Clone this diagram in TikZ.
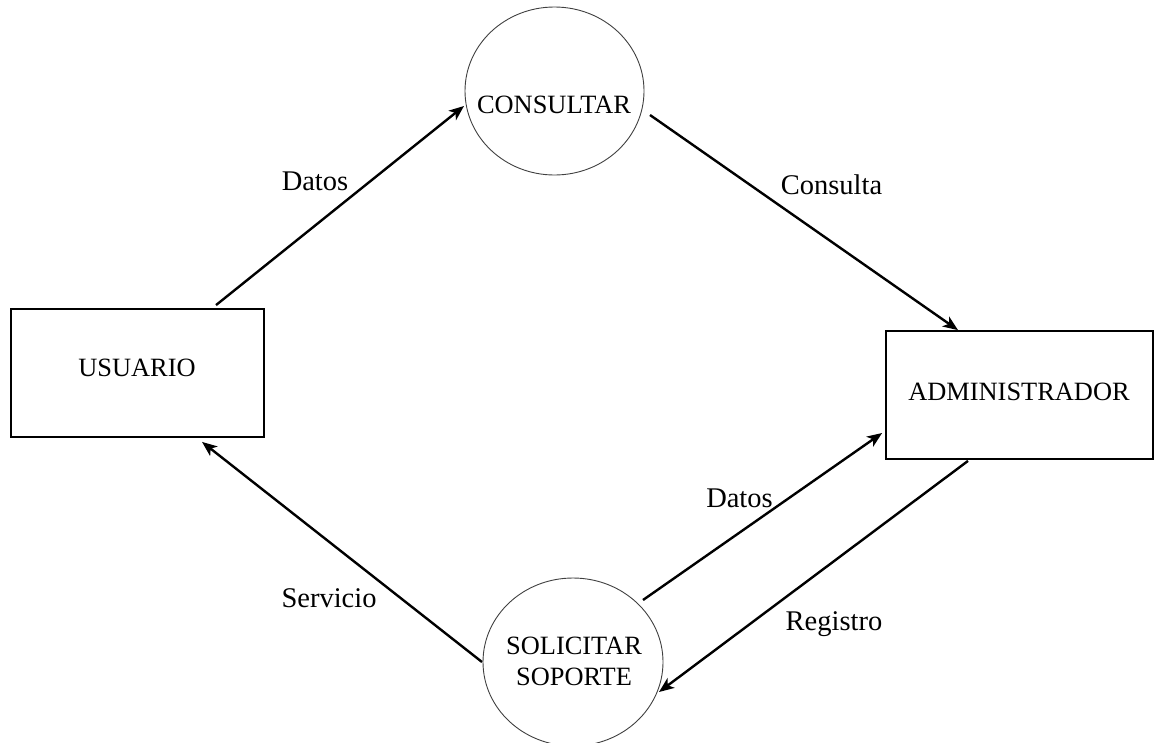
\documentclass[tikz,border=0pt]{standalone}
\usepackage{fontspec}
\setmainfont{Liberation Serif}
\usetikzlibrary{arrows.meta,calc,shapes.geometric}

\tikzset{
  entity/.style={draw=black, line width=1.8pt, rectangle, inner sep=0pt},
  process/.style={draw=black!75, line width=0.9pt, ellipse, inner sep=0pt},
  nodetext/.style={anchor=base, inner sep=0pt, font=\fontsize{26.4}{31}\selectfont},
  flowlabel/.style={anchor=base, inner sep=0pt, font=\fontsize{28.5}{33}\selectfont},
  flow/.style={line width=2.4pt, -{Stealth[length=15pt,width=12pt,inset=4pt]}},
}

\begin{document}
\begin{tikzpicture}[x=1pt, y=-1pt]
  \useasboundingbox (0,0) rectangle (1155,742);

  % external entities
  \node[entity, minimum width=253pt, minimum height=128pt] (usr) at (137.5,373) {};
  \node[nodetext] (usrtxt) at (137,376) {USUARIO};
  \node[entity, minimum width=267pt, minimum height=128pt] (adm) at (1019.5,395) {};
  \node[nodetext] (admtxt) at (1019,400) {ADMINISTRADOR};

  % processes
  \node[process, minimum width=179pt, minimum height=168pt] (cons) at (554.5,91) {};
  \node[nodetext] (constxt) at (554,113) {CONSULTAR};
  \node[process, minimum width=180pt, minimum height=168pt] (sol) at (573,662) {};
  \node[nodetext] (soltxt1) at (574,654) {SOLICITAR};
  \node[nodetext] (soltxt2) at (574,685) {SOPORTE};

  % data flows
  \draw[flow] ($(usr.north)+(78.5,-3)$) -- ($(cons.center)+(-90.5,15)$);
  \draw[flow] ($(cons.center)+(95.5,24)$) -- ($(adm.north)+(-61.5,0)$);
  \draw[flow] ($(sol.center)+(70,-62)$) -- ($(adm.west)+(-3,38)$);
  \draw[flow] ($(adm.south)+(-51.5,1)$) -- ($(sol.center)+(86,30)$);
  \draw[flow] ($(sol.center)+(-91,0)$) -- ($(usr.south)+(64.5,4)$);

  % flow labels
  \node[flowlabel] (l1) at (315,190) {Datos};
  \node[flowlabel] (l2) at (831.5,194) {Consulta};
  \node[flowlabel] (l3) at (739.5,507) {Datos};
  \node[flowlabel] (l4) at (329,607) {Servicio};
  \node[flowlabel] (l5) at (834,630) {Registro};
\end{tikzpicture}
\end{document}
